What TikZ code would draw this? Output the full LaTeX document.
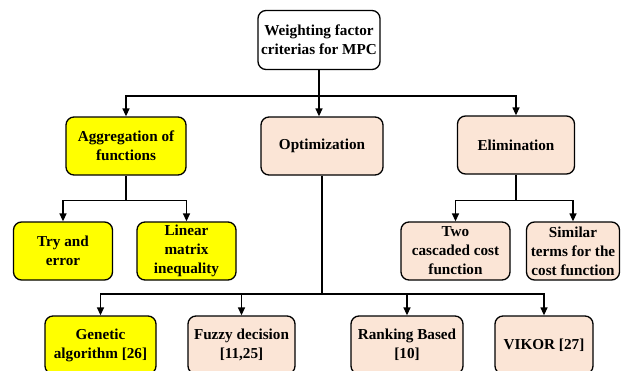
\documentclass[tikz,border=0pt]{standalone}
\usepackage{fontspec}
\setmainfont{Liberation Serif}[BoldFont={Liberation Serif Bold}]
\usetikzlibrary{arrows.meta}
\definecolor{peach}{HTML}{FBE5D6}
\definecolor{yel}{HTML}{FFFF00}
\tikzset{
  box/.style={draw=black, line width=1.3pt, rounded corners=8pt, align=center,
    font=\bfseries\fontsize{15.2}{19}\selectfont, inner sep=2pt},
  ybox/.style={box, fill=yel},
  pbox/.style={box, fill=peach},
  wbox/.style={box, fill=white},
  link/.style={line width=1.3pt},
  arr/.style={link, -{Triangle[length=8pt,width=7pt]}}
}
\begin{document}
\begin{tikzpicture}[x=1pt,y=-1pt]
\useasboundingbox (0,0) rectangle (630,370);
\clip (0,0) rectangle (630,370);
\fill[white] (0,0) rectangle (630,370);

% top level
\node[wbox, minimum width=122pt, minimum height=59pt] (root) at (319,40)
  {Weighting factor\\criterias for MPC};

% second level
\node[ybox, minimum width=120pt, minimum height=58pt] (agg) at (126,146)
  {Aggregation of\\functions};
\node[pbox, minimum width=122pt, minimum height=58pt] (opt) at (322,146)
  {Optimization};
\node[pbox, minimum width=117pt, minimum height=58pt] (elim) at (516,145)
  {Elimination};

% children of aggregation
\node[ybox, minimum width=99pt, minimum height=58pt] (try) at (63,251)
  {Try and\\error};
\node[ybox, minimum width=99pt, minimum height=58pt] (lmi) at (186.5,251)
  {Linear\\matrix\\inequality};

% children of elimination
\node[pbox, minimum width=109pt, minimum height=58pt] (two) at (455.5,251)
  {Two\\cascaded cost\\function};
\node[pbox, minimum width=93pt, minimum height=58pt] (sim) at (573,251)
  {Similar\\terms for the\\cost function};

% children of optimization
\node[ybox, minimum width=111pt, minimum height=58pt] (gen) at (100.5,345)
  {Genetic\\algorithm [26]};
\node[pbox, minimum width=107pt, minimum height=58pt] (fuz) at (241.5,345)
  {Fuzzy decision\\{}[11,25]};
\node[pbox, minimum width=112pt, minimum height=58pt] (rank) at (407,345)
  {Ranking Based\\{}[10]};
\node[pbox, minimum width=98pt, minimum height=58pt] (vik) at (544,345)
  {VIKOR [27]};

% bus levels
\coordinate (busA) at (0,96);
\coordinate (busB) at (0,200.5);
\coordinate (busC) at (0,294);

\draw[link] (root.south) -- (root.south |- busA);
\draw[arr] (root.south |- busA) -| (agg.north);
\draw[arr] (root.south |- busA) -| (elim.north);
\draw[arr] (root.south |- busA) -- (opt.north -| root.south);

\draw[link] (agg.south) -- (agg.south |- busB);
\draw[arr] (agg.south |- busB) -| (try.north);
\draw[arr] (agg.south |- busB) -| (lmi.north);

\draw[link] (elim.south) -- (elim.south |- busB);
\draw[arr] (elim.south |- busB) -| (two.north);
\draw[arr] (elim.south |- busB) -| (sim.north);

\draw[link] (opt.south) -- (opt.south |- busC);
\draw[arr] (opt.south |- busC) -| (gen.north);
\draw[arr] (opt.south |- busC) -| (fuz.north);
\draw[arr] (opt.south |- busC) -| (rank.north);
\draw[arr] (opt.south |- busC) -| (vik.north);
\end{tikzpicture}
\end{document}
